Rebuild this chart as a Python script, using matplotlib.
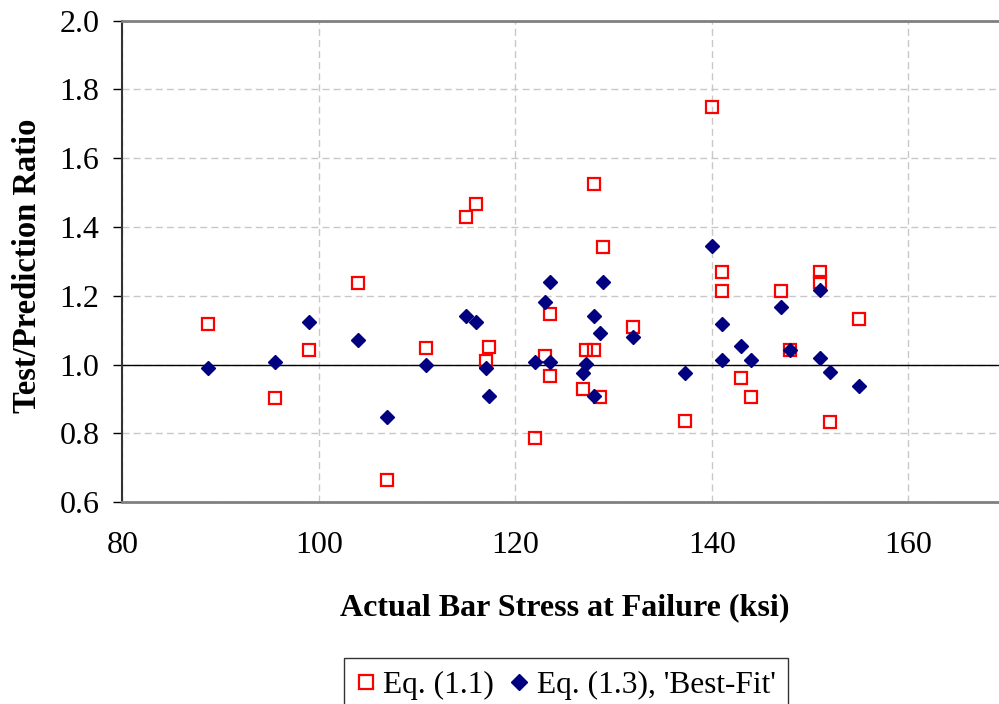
import matplotlib.pyplot as plt

# bar stress at failure (ksi), one value per specimen
stress = [88.7, 95.5, 99.0, 104.0, 106.9, 110.9, 115.0, 116.0, 117.0, 117.3,
          122.0, 123.0, 123.5, 123.5, 126.9, 127.2, 128.0, 128.0, 128.6, 128.95,
          132.0, 137.3, 140.0, 141.0, 141.0, 143.0, 144.0, 147.0, 148.0, 151.0,
          151.0, 152.0, 155.0]

# test/prediction ratio, Eq. (1.1)
ratio_eq11 = [1.117, 0.902, 1.042, 1.238, 0.665, 1.047, 1.430, 1.468, 1.011, 1.052,
              0.786, 1.025, 1.147, 0.967, 0.928, 1.042, 1.524, 1.042, 0.905, 1.343,
              1.109, 0.836, 1.750, 1.270, 1.215, 0.962, 0.905, 1.215, 1.042, 1.270,
              1.239, 0.834, 1.132]

# test/prediction ratio, Eq. (1.3) best-fit
ratio_eq13 = [0.990, 1.008, 1.125, 1.072, 0.847, 0.999, 1.142, 1.125, 0.991, 0.907,
              1.007, 1.183, 1.241, 1.008, 0.975, 1.001, 1.142, 0.907, 1.091, 1.239,
              1.080, 0.975, 1.345, 1.118, 1.013, 1.054, 1.014, 1.167, 1.042, 1.217,
              1.019, 0.978, 0.938]

x_ticks = [80, 100, 120, 140, 160]
y_ticks = [0.6, 0.8, 1.0, 1.2, 1.4, 1.6, 1.8, 2.0]

plt.rcParams['font.family'] = ['Liberation Serif', 'DejaVu Serif']

fig = plt.figure(figsize=(9.99, 7.04), dpi=100)
# plot area runs past the right edge of the picture (x axis goes to 170)
ax = fig.add_axes([0.1226, 0.2869, 0.885, 0.6837])

ax.plot(stress, ratio_eq11, linestyle='none', marker='s', markersize=9,
        markerfacecolor='none', markeredgecolor='#ff0000', markeredgewidth=1.6,
        label='Eq. (1.1)', zorder=3)
ax.plot(stress, ratio_eq13, linestyle='none', marker='D', markersize=7.5,
        color='#000080', label="Eq. (1.3), 'Best-Fit'", zorder=4)

ax.axhline(1.0, color='black', linewidth=1, zorder=2)

ax.set_xlim(80, 170)
ax.set_ylim(0.6, 2.0)
ax.set_xticks(x_ticks)
ax.set_yticks(y_ticks)
ax.set_yticklabels(['%.1f' % v for v in y_ticks])
ax.grid(True, color='#c8c8c8', linestyle=(0, (5, 3)), linewidth=1, zorder=0)
ax.set_axisbelow(True)

ax.tick_params(axis='y', labelsize=23, direction='out', length=6.5, width=1,
               pad=10)
ax.tick_params(axis='x', labelsize=23, length=0, pad=21)

for side in ['top', 'bottom']:
    ax.spines[side].set_color('#808080')
    ax.spines[side].set_linewidth(2)
ax.spines['left'].set_color('#333333')
ax.spines['left'].set_linewidth(1.5)

ax.set_xlabel('Actual Bar Stress at Failure (ksi)', fontsize=23,
              fontweight='bold', va='center')
ax.xaxis.set_label_coords(0.5, -0.22)
ax.set_ylabel('Test/Prediction Ratio', fontsize=23.5, fontweight='bold',
              va='center')
ax.yaxis.set_label_coords(-0.107, 0.49)

leg = fig.legend(loc='upper left', bbox_to_anchor=(0.3445, 0.0653), ncol=2,
                 fontsize=22.6, frameon=True, fancybox=False, edgecolor='black',
                 borderpad=0.4, handletextpad=0.25, columnspacing=0.5,
                 handlelength=0.6, markerscale=1.1, borderaxespad=0)
leg.get_frame().set_linewidth(1)

fig.savefig('out.png', dpi=100)
